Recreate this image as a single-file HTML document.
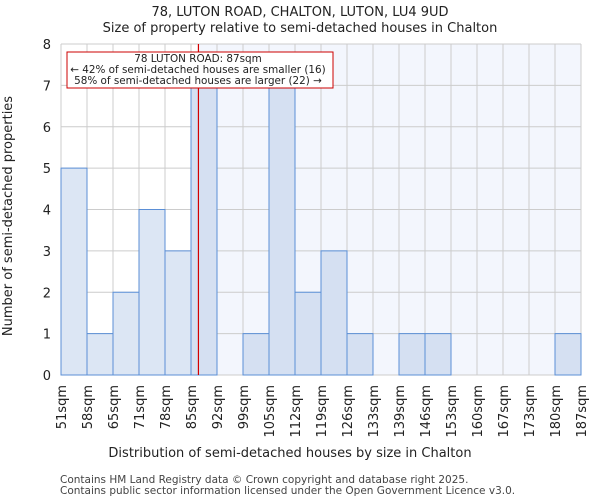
<!DOCTYPE html>
<html><head><meta charset="utf-8"><style>
body{margin:0;background:#fff;font-family:"DejaVu Sans","Liberation Sans",sans-serif;}
svg text{font-family:"DejaVu Sans","Liberation Sans",sans-serif;fill:#222;}
</style></head><body>
<svg id="chart" width="600" height="500" xmlns="http://www.w3.org/2000/svg">
<text x="300" y="16" text-anchor="middle" font-size="13">78, LUTON ROAD, CHALTON, LUTON, LU4 9UD</text>
<text x="300" y="32" text-anchor="middle" font-size="13">Size of property relative to semi-detached houses in Chalton</text>
<g id="plot"></g>
<text x="290" y="457" text-anchor="middle" font-size="13">Distribution of semi-detached houses by size in Chalton</text>
<text transform="translate(12,216) rotate(-90)" text-anchor="middle" font-size="13">Number of semi-detached properties</text>
<text x="60" y="483" font-size="10.5" style="fill:#444">Contains HM Land Registry data © Crown copyright and database right 2025.</text>
<text x="60" y="494" font-size="10.5" style="fill:#444">Contains public sector information licensed under the Open Government Licence v3.0.</text>
</svg>
<script>
const binLabels=["51sqm","58sqm","65sqm","71sqm","78sqm","85sqm","92sqm","99sqm","105sqm","112sqm","119sqm","126sqm","133sqm","139sqm","146sqm","153sqm","160sqm","167sqm","173sqm","180sqm","187sqm"];
const counts=[5,1,2,4,3,7,0,1,7,2,3,1,0,1,1,0,0,0,0,1];
const yTicks=[0,1,2,3,4,5,6,7,8];
const marker=87;
const binStart=85, binEnd=92, markerBin=5;
const NS="http://www.w3.org/2000/svg";
const L=61,R=581,T=44,B=375,yMax=8;
const bw=(R-L)/counts.length;
const x=i=>L+i*bw;
const y=v=>B-(v/yMax)*(B-T);
const g=document.getElementById('plot');
function mk(t,a){const e=document.createElementNS(NS,t);for(const k in a)e.setAttribute(k,a[k]);g.appendChild(e);return e;}
const mx=x(markerBin)+bw*(marker-binStart)/(binEnd-binStart);
let e=mk('rect',{x:mx,y:T,width:R-mx,height:B-T,fill:'#f3f6fd'});


for(let i=0;i<=counts.length;i++){e=mk('line',{x1:x(i),x2:x(i),y1:T,y2:B,stroke:'#cccccc','stroke-width':1});

}
yTicks.forEach(v=>{e=mk('line',{x1:L,x2:R,y1:y(v),y2:y(v),stroke:'#cccccc','stroke-width':1});


const t=mk('text',{x:L-10,y:y(v)+5,'text-anchor':'end','font-size':13});t.textContent=v;

});
counts.forEach((c,i)=>{if(c<=0)return;
const r=mk('rect',{x:x(i),y:y(c),width:bw,height:B-y(c),fill:i<markerBin?'#dce6f4':'#d5e0f2',stroke:'#5b8fd6','stroke-width':1});

});
binLabels.forEach((l,i)=>{const t=mk('text',{transform:`translate(${x(i)+5},${B+10}) rotate(-90)`,'text-anchor':'end','font-size':13});t.textContent=l;

});
e=mk('line',{x1:mx,x2:mx,y1:T,y2:B,stroke:'#d40000','stroke-width':1.2});


e=mk('rect',{x:67,y:52,width:266,height:36,fill:'#fff',stroke:'#cc0000','stroke-width':1});


["78 LUTON ROAD: 87sqm","← 42% of semi-detached houses are smaller (16)","58% of semi-detached houses are larger (22) →"].forEach((s,k)=>{
const t=mk('text',{x:198,y:62+k*11,'text-anchor':'middle','font-size':10.4});t.textContent=s;

});
</script>
</body></html>
